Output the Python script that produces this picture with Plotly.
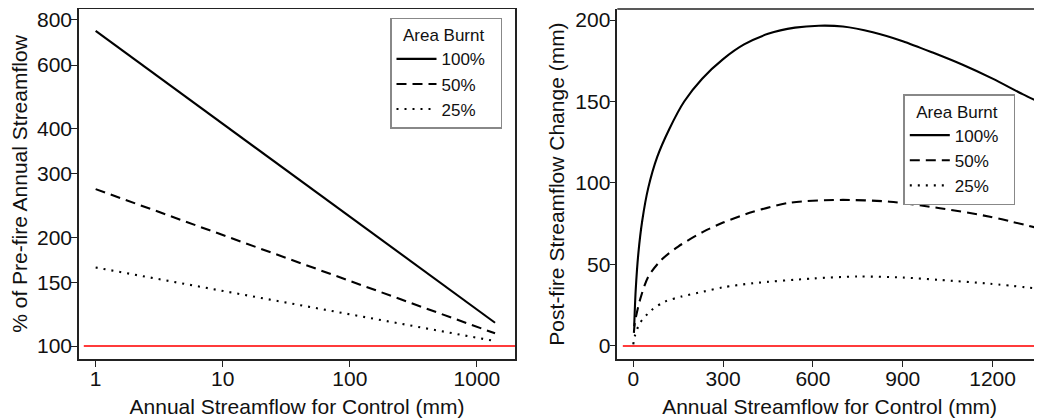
import plotly.graph_objects as go

# ---------------- data ----------------
series_names = ["100%", "50%", "25%"]

# Left panel: % of pre-fire annual streamflow vs control streamflow (log-log, straight lines)
left_x = [1, 1390]
left_100 = [746, 116]
left_50 = [272, 108.4]
left_25 = [165, 103.2]

# Right panel: post-fire streamflow change (mm)
right_x_100 = [3, 8, 17, 30, 50, 80, 120, 170, 230, 300, 370, 450, 540, 620, 700, 800, 900, 1000, 1100, 1200, 1300, 1353]
right_y_100 = [12, 34, 57, 77, 97, 116, 133, 150, 164, 176, 185, 191.5, 195.3, 196.5, 196, 192.5, 187, 180, 172.5, 164, 154.5, 149.9]

right_x_50 = [2, 5, 22, 50, 95, 150, 233, 300, 400, 523, 690, 857, 1024, 1191, 1353]
right_y_50 = [8, 14, 28, 42.5, 53, 61, 70, 75.7, 82.3, 87.9, 89.6, 88.5, 84.5, 79.3, 72.2]

right_x_25 = [0, 5, 22, 61, 106, 161, 234, 300, 400, 600, 750, 900, 1024, 1190, 1353]
right_y_25 = [1, 6, 14, 22, 27.2, 30.3, 33.3, 36, 38.5, 41.4, 42.6, 42, 40.5, 38.2, 35.2]

left_yticks = [100, 150, 200, 300, 400, 600, 800]
left_xticks = [1, 10, 100, 1000]
right_xticks = [0, 300, 600, 900, 1200]
right_yticks = [0, 50, 100, 150, 200]

# ---------------- styling ----------------
# the page body has an 8px margin, so the figure is laid out 8px smaller
OFF = 8
W, H = 1042 - OFF, 420 - OFF
PLOT_TOP, PLOT_BOTTOM = 9, 359          # page pixels
ML, MR = 79 - OFF, 0
MT = PLOT_TOP - OFF
MB = H - (PLOT_BOTTOM - OFF)
PW = W - ML - MR
PH = H - MT - MB
FONT = "Liberation Sans, Arial, sans-serif"
dashes = ["solid", "10px,6px", "2px,6px"]
lw = 2.1

def dx(p):
    return (p - OFF - ML) / PW

def dy(p):
    return 1 - (p - OFF - MT) / PH

fig = go.Figure()

for name, ys, d in zip(series_names, [left_100, left_50, left_25], dashes):
    fig.add_trace(go.Scatter(x=left_x, y=ys, mode="lines", name=name,
                             line=dict(color="black", width=lw, dash=d),
                             xaxis="x", yaxis="y", legend="legend"))

for name, xs, ys, d in zip(series_names,
                           [right_x_100, right_x_50, right_x_25],
                           [right_y_100, right_y_50, right_y_25], dashes):
    fig.add_trace(go.Scatter(x=xs, y=ys, mode="lines", name=name,
                             line=dict(color="black", width=lw, dash=d, shape="spline", smoothing=0.8),
                             xaxis="x2", yaxis="y2", legend="legend2"))

axis_common = dict(showgrid=False, zeroline=False, showline=True, linecolor="#222",
                   linewidth=1.5, ticks="outside", ticklen=6, tickcolor="#222", tickwidth=1,
                   automargin=False,
                   tickfont=dict(size=21, color="#111", family=FONT))
title_font = dict(size=21, family=FONT, color="#111")

legend_common = dict(xanchor="left", yanchor="top", bgcolor="white",
                     bordercolor="#888", borderwidth=1.5,
                     title=dict(text="\u00a0\u00a0Area Burnt\u00a0\u00a0\u00a0",
                                font=dict(size=17, family=FONT, color="#111")),
                     font=dict(size=17, family=FONT, color="#111"), itemwidth=40, tracegroupgap=0)

# y ranges so that the plot area's top/bottom match the reference
left_y_range = [1.964, 2 + (346 - PLOT_TOP) / 361]
right_y_range = [-8, (346 - PLOT_TOP) / 1.63]

fig.update_layout(
    width=W, height=H,
    margin=dict(l=ML, r=MR, t=MT, b=MB, autoexpand=False),
    paper_bgcolor="white", plot_bgcolor="white",
    font=dict(family=FONT, color="#111"),
    xaxis=dict(domain=[0, dx(515)], type="log", range=[-0.131, 3.30],
               tickvals=left_xticks, ticktext=[str(v) for v in left_xticks],
               mirror=True, anchor="y", ticklabelstandoff=-6,
               title=dict(text="Annual Streamflow for Control (mm)", font=title_font, standoff=10),
               **axis_common),
    yaxis=dict(domain=[0, 1], type="log", range=left_y_range,
               tickvals=left_yticks, ticktext=[str(v) for v in left_yticks],
               mirror=True, anchor="x", ticklabelstandoff=-5,
               title=dict(text="% of Pre-fire Annual Streamflow", font=title_font, standoff=5),
               **axis_common),
    xaxis2=dict(domain=[dx(617.3), 1.0], range=[-53.4, 1365],
                tickvals=right_xticks, anchor="y2", mirror=False, ticklabelstandoff=-6,
                title=dict(text="Annual Streamflow for Control (mm)", font=title_font, standoff=10),
                **axis_common),
    yaxis2=dict(domain=[0, 1], range=right_y_range,
                tickvals=right_yticks, anchor="x2", ticklabelstandoff=-5,
                title=dict(text="Post-fire Streamflow Change (mm)", font=title_font, standoff=5),
                **axis_common),
    legend=dict(x=dx(390), y=dy(17.7), **legend_common),
    legend2=dict(x=dx(903.3), y=dy(94), **legend_common),
    showlegend=True,
)

# top border for right panel (its right border is cropped off in the reference)
fig.add_shape(type="line", xref="x2 domain", yref="y2 domain", x0=0, x1=1, y0=1, y1=1,
              line=dict(color="#222", width=1.5))

# red reference lines
fig.add_shape(type="line", xref="x domain", yref="y", x0=0.011, x1=1, y0=100, y1=100,
              line=dict(color="#FF3B3B", width=2))
fig.add_shape(type="line", xref="x2 domain", yref="y2", x0=0.013, x1=1, y0=0, y1=0,
              line=dict(color="#FF3B3B", width=2))

fig.write_html("out.html")
